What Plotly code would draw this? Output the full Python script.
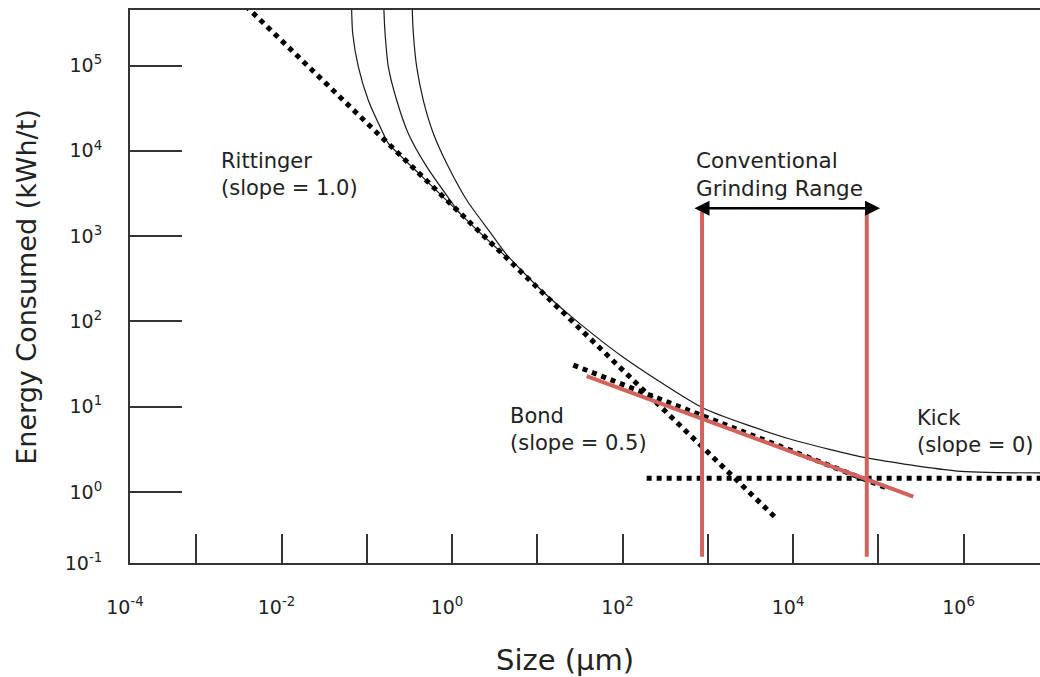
import numpy as np
import plotly.graph_objects as go

# ---- data (size in µm, energy in kWh/t) ----
left_size = [0.0663, 0.0665, 0.0684, 0.0796, 0.104, 0.156, 0.179, 0.422, 1.24]
left_energy = [6.0e5, 4.48e5, 2.39e5, 9.69e4, 3.94e4, 1.60e4, 1.22e4, 5260, 1850]

middle_size = [0.158, 0.159, 0.164, 0.179, 0.224, 0.307, 0.505, 0.948, 1.24, 4.42]
middle_energy = [6.0e5, 4.48e5, 2.39e5, 9.69e4, 3.94e4, 1.60e4, 6520, 2650, 1850, 560]

right_size = [0.340, 0.342, 0.352, 0.385, 0.460, 0.604, 0.906, 1.54, 2.79]
right_energy = [6.0e5, 4.48e5, 2.39e5, 9.69e4, 3.94e4, 1.60e4, 6520, 2510, 1117]

tail_size = [4.42, 10.8, 26.2, 101, 879, 9230, 73800, 840000, 1.0e7]
tail_energy = [600, 240, 110, 38.3, 9.66, 4.18, 2.51, 1.76, 1.67]

rittinger_size = [0.0038, 6490]
rittinger_energy = [5.0e5, 0.482]

bond_size = [26.5, 126800]
bond_energy = [30.8, 1.11]

kick_size = [192, 1.0e7]
kick_energy = [1.45, 1.45]

red_bond_size = [38.0, 257800]
red_bond_energy = [22.9, 0.881]

range_low_size = [857, 857]
range_high_size = [73300, 73300]
range_energy = [0.174, 1930]

arrow_size = [671, 105000]
arrow_energy = 2120

x_tick_vals = [10.0 ** -3.777, 1e-3, 1e-2, 1e-1, 1e0, 1e1, 1e2, 1e3, 1e4, 1e5, 1e6]
x_tick_text = ["10<sup>-4</sup>", "", "10<sup>-2</sup>", "", "10<sup>0</sup>", "",
               "10<sup>2</sup>", "", "10<sup>4</sup>", "", "10<sup>6</sup>"]
y_tick_vals = [10.0 ** -0.832, 1e0, 1e1, 1e2, 1e3, 1e4, 1e5]
y_tick_text = ["10<sup>-1</sup>", "10<sup>0</sup>", "10<sup>1</sup>", "10<sup>2</sup>",
               "10<sup>3</sup>", "10<sup>4</sup>", "10<sup>5</sup>"]

FONT = "DejaVu Sans"
INK = "#222222"
RED = "#d2635c"

fig = go.Figure()

solid = dict(color="#1a1a1a", width=1.2, shape="spline", smoothing=0.6)
fig.add_trace(go.Scatter(x=left_size, y=left_energy, mode="lines", line=solid))
fig.add_trace(go.Scatter(x=middle_size, y=middle_energy, mode="lines", line=solid))
fig.add_trace(go.Scatter(x=right_size + tail_size, y=right_energy + tail_energy,
                         mode="lines", line=solid))

dotted = dict(color="black", width=5, dash="dot")
fig.add_trace(go.Scatter(x=rittinger_size, y=rittinger_energy, mode="lines", line=dotted))
fig.add_trace(go.Scatter(x=bond_size, y=bond_energy, mode="lines", line=dotted))
fig.add_trace(go.Scatter(x=kick_size, y=kick_energy, mode="lines", line=dotted))

red = dict(color=RED, width=4)
fig.add_trace(go.Scatter(x=red_bond_size, y=red_bond_energy, mode="lines", line=red))
fig.add_trace(go.Scatter(x=range_low_size, y=range_energy, mode="lines", line=red))
fig.add_trace(go.Scatter(x=range_high_size, y=range_energy, mode="lines", line=red))

lbl = dict(family=FONT, size=21, color=INK)
fig.add_annotation(x=np.log10(0.00183), y=np.log10(5300), xref="x", yref="y",
                   text="Rittinger<br>(slope = 1.0)", showarrow=False,
                   xanchor="left", yanchor="middle", align="left", font=lbl)
fig.add_annotation(x=np.log10(4.54), y=np.log10(5.48), xref="x", yref="y",
                   text="Bond<br>(slope = 0.5)", showarrow=False,
                   xanchor="left", yanchor="middle", align="left", font=lbl)
fig.add_annotation(x=np.log10(270000), y=np.log10(5.19), xref="x", yref="y",
                   text="Kick<br>(slope = 0)", showarrow=False,
                   xanchor="left", yanchor="middle", align="left", font=lbl)
fig.add_annotation(x=np.log10(690), y=np.log10(5300), xref="x", yref="y",
                   text="Conventional<br>Grinding Range", showarrow=False,
                   xanchor="left", yanchor="middle", align="left",
                   font=dict(family=FONT, size=21.5, color=INK))

# double-headed arrow for the grinding range
fig.add_annotation(x=np.log10(arrow_size[1]), y=np.log10(arrow_energy),
                   ax=np.log10(arrow_size[0]), ay=np.log10(arrow_energy),
                   xref="x", yref="y", axref="x", ayref="y", text="",
                   showarrow=True, arrowhead=2, startarrowhead=2, arrowside="end+start",
                   arrowsize=1.2, startarrowsize=1.2, arrowwidth=2.5, arrowcolor="black",
                   standoff=0, startstandoff=0)

# axis titles
fig.add_annotation(x=-0.114, y=0.5, xref="paper", yref="paper", text="Energy Consumed (kWh/t)",
                   textangle=-90, showarrow=False, xanchor="center", yanchor="middle",
                   font=dict(family=FONT, size=27, color=INK))
fig.add_annotation(x=0.478, y=-0.175, xref="paper", yref="paper", text="Size (µm)",
                   showarrow=False, xanchor="center", yanchor="middle",
                   font=dict(family=FONT, size=29, color=INK))

fig.update_xaxes(type="log", range=[-3.777, 6.897], showgrid=False, zeroline=False,
                 showline=True, linecolor="#333333", linewidth=2, mirror=True,
                 ticks="inside", ticklen=29, tickwidth=2, tickcolor="#333333",
                 tickvals=x_tick_vals, ticktext=x_tick_text,
                 ticklabelstandoff=26, ticklabelshift=-5,
                 tickfont=dict(family=FONT, size=19, color=INK), automargin=False)
fig.update_yaxes(type="log", range=[-0.832, 5.651], showgrid=False, zeroline=False,
                 showline=True, linecolor="#333333", linewidth=2, mirror=False,
                 ticks="inside", ticklen=52, tickwidth=2, tickcolor="#333333",
                 tickvals=y_tick_vals, ticktext=y_tick_text,
                 ticklabelstandoff=22,
                 tickfont=dict(family=FONT, size=19, color=INK), automargin=False)

fig.update_layout(width=1040, height=677, showlegend=False,
                  margin=dict(l=130, r=0, t=10, b=114),
                  paper_bgcolor="white", plot_bgcolor="white")

fig.write_html("out.html")
